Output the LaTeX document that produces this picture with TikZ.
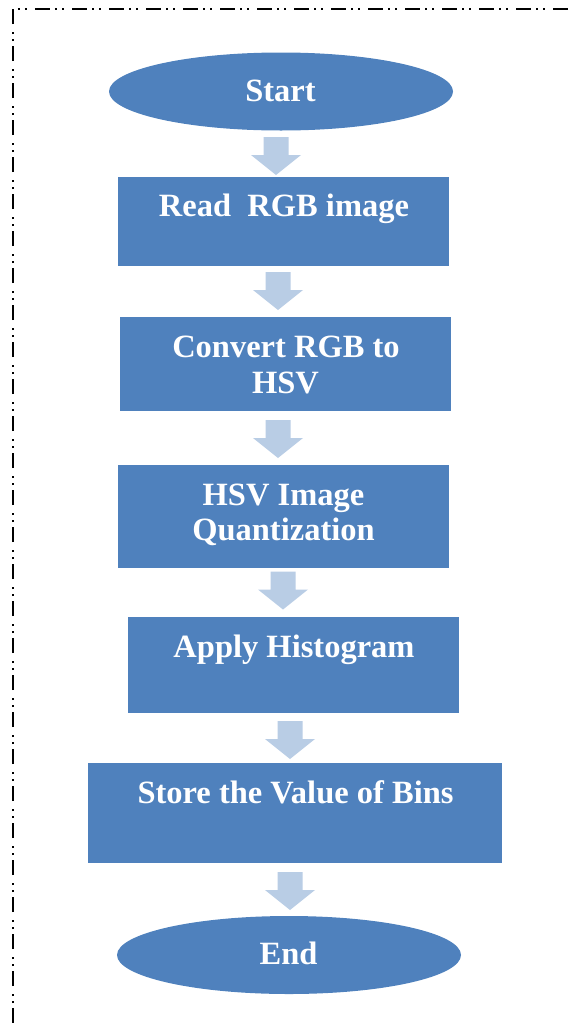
\documentclass[tikz,border=0pt]{standalone}
\usepackage{fontspec}
\setmainfont{Liberation Serif}
\usetikzlibrary{shapes.geometric}
\definecolor{stepblue}{HTML}{4F81BD}
\definecolor{arrowblue}{HTML}{B9CDE5}
\tikzset{
  stepbox/.style={rectangle, fill=stepblue, draw=none, inner sep=0pt},
  terminal/.style={ellipse, fill=stepblue, draw=none, inner sep=0pt,
    minimum width=344pt, minimum height=78pt},
  label text/.style={anchor=base, text=white, inner sep=0pt,
    font=\bfseries\fontsize{32.5}{36}\selectfont},
  downarrow/.pic={
    \fill[arrowblue] (-12.5,-19) -- (12.5,-19) -- (12.5,-1) -- (25,-1)
      -- (0,19) -- (-25,-1) -- (-12.5,-1) -- cycle;
  },
  frame line/.style={line width=1.8pt,
    dash pattern=on 15pt off 5pt on 2pt off 5pt on 2pt off 8pt}
}
\begin{document}
\begin{tikzpicture}[x=1pt,y=-1pt]
\useasboundingbox (0,0) rectangle (568,1023);

% dash-dot-dot frame on the left and top
\draw[frame line] (13,1023) -- (13,9) -- (568,9);

% flow steps
\node[terminal] (start) at (281,91.5) {};
\node[stepbox, minimum width=331pt, minimum height=89pt]  (read)    at (283.5,221.5) {};
\node[stepbox, minimum width=331pt, minimum height=94pt]  (convert) at (285.5,364) {};
\node[stepbox, minimum width=331pt, minimum height=103pt] (quant)   at (283.5,516.5) {};
\node[stepbox, minimum width=331pt, minimum height=96pt]  (hist)    at (293.5,665) {};
\node[stepbox, minimum width=414pt, minimum height=100pt] (store)   at (295,813) {};
\node[terminal] (end) at (289,955) {};

% step labels
\node[label text] (tstart) at (280.5,101.5) {Start};
\node[label text] (tread) at (284,216) {Read\ \ RGB image};
\node[label text] (tconv1) at (286,357.5) {Convert RGB to};
\node[label text] (tconv2) at (285.5,393.5) {HSV};
\node[label text] (tquant1) at (283.5,505.5) {HSV Image};
\node[label text] (tquant2) at (283.5,540.5) {Quantization};
\node[label text] (thist) at (294,657.5) {Apply Histogram};
\node[label text] (tstore) at (295.5,803.5) {Store the Value of Bins};
\node[label text] (tend) at (288.5,964.5) {End};

% block arrows between the steps
\coordinate (a1) at (276,156);
\coordinate (a2) at (278,291);
\coordinate (a3) at (278,439);
\coordinate (a4) at (283,590.5);
\coordinate (a5) at (290,740);
\coordinate (a6) at (290,891);
\foreach \c in {a1,a2,a3,a4,a5,a6} \pic at (\c) {downarrow};
\end{tikzpicture}
\end{document}
